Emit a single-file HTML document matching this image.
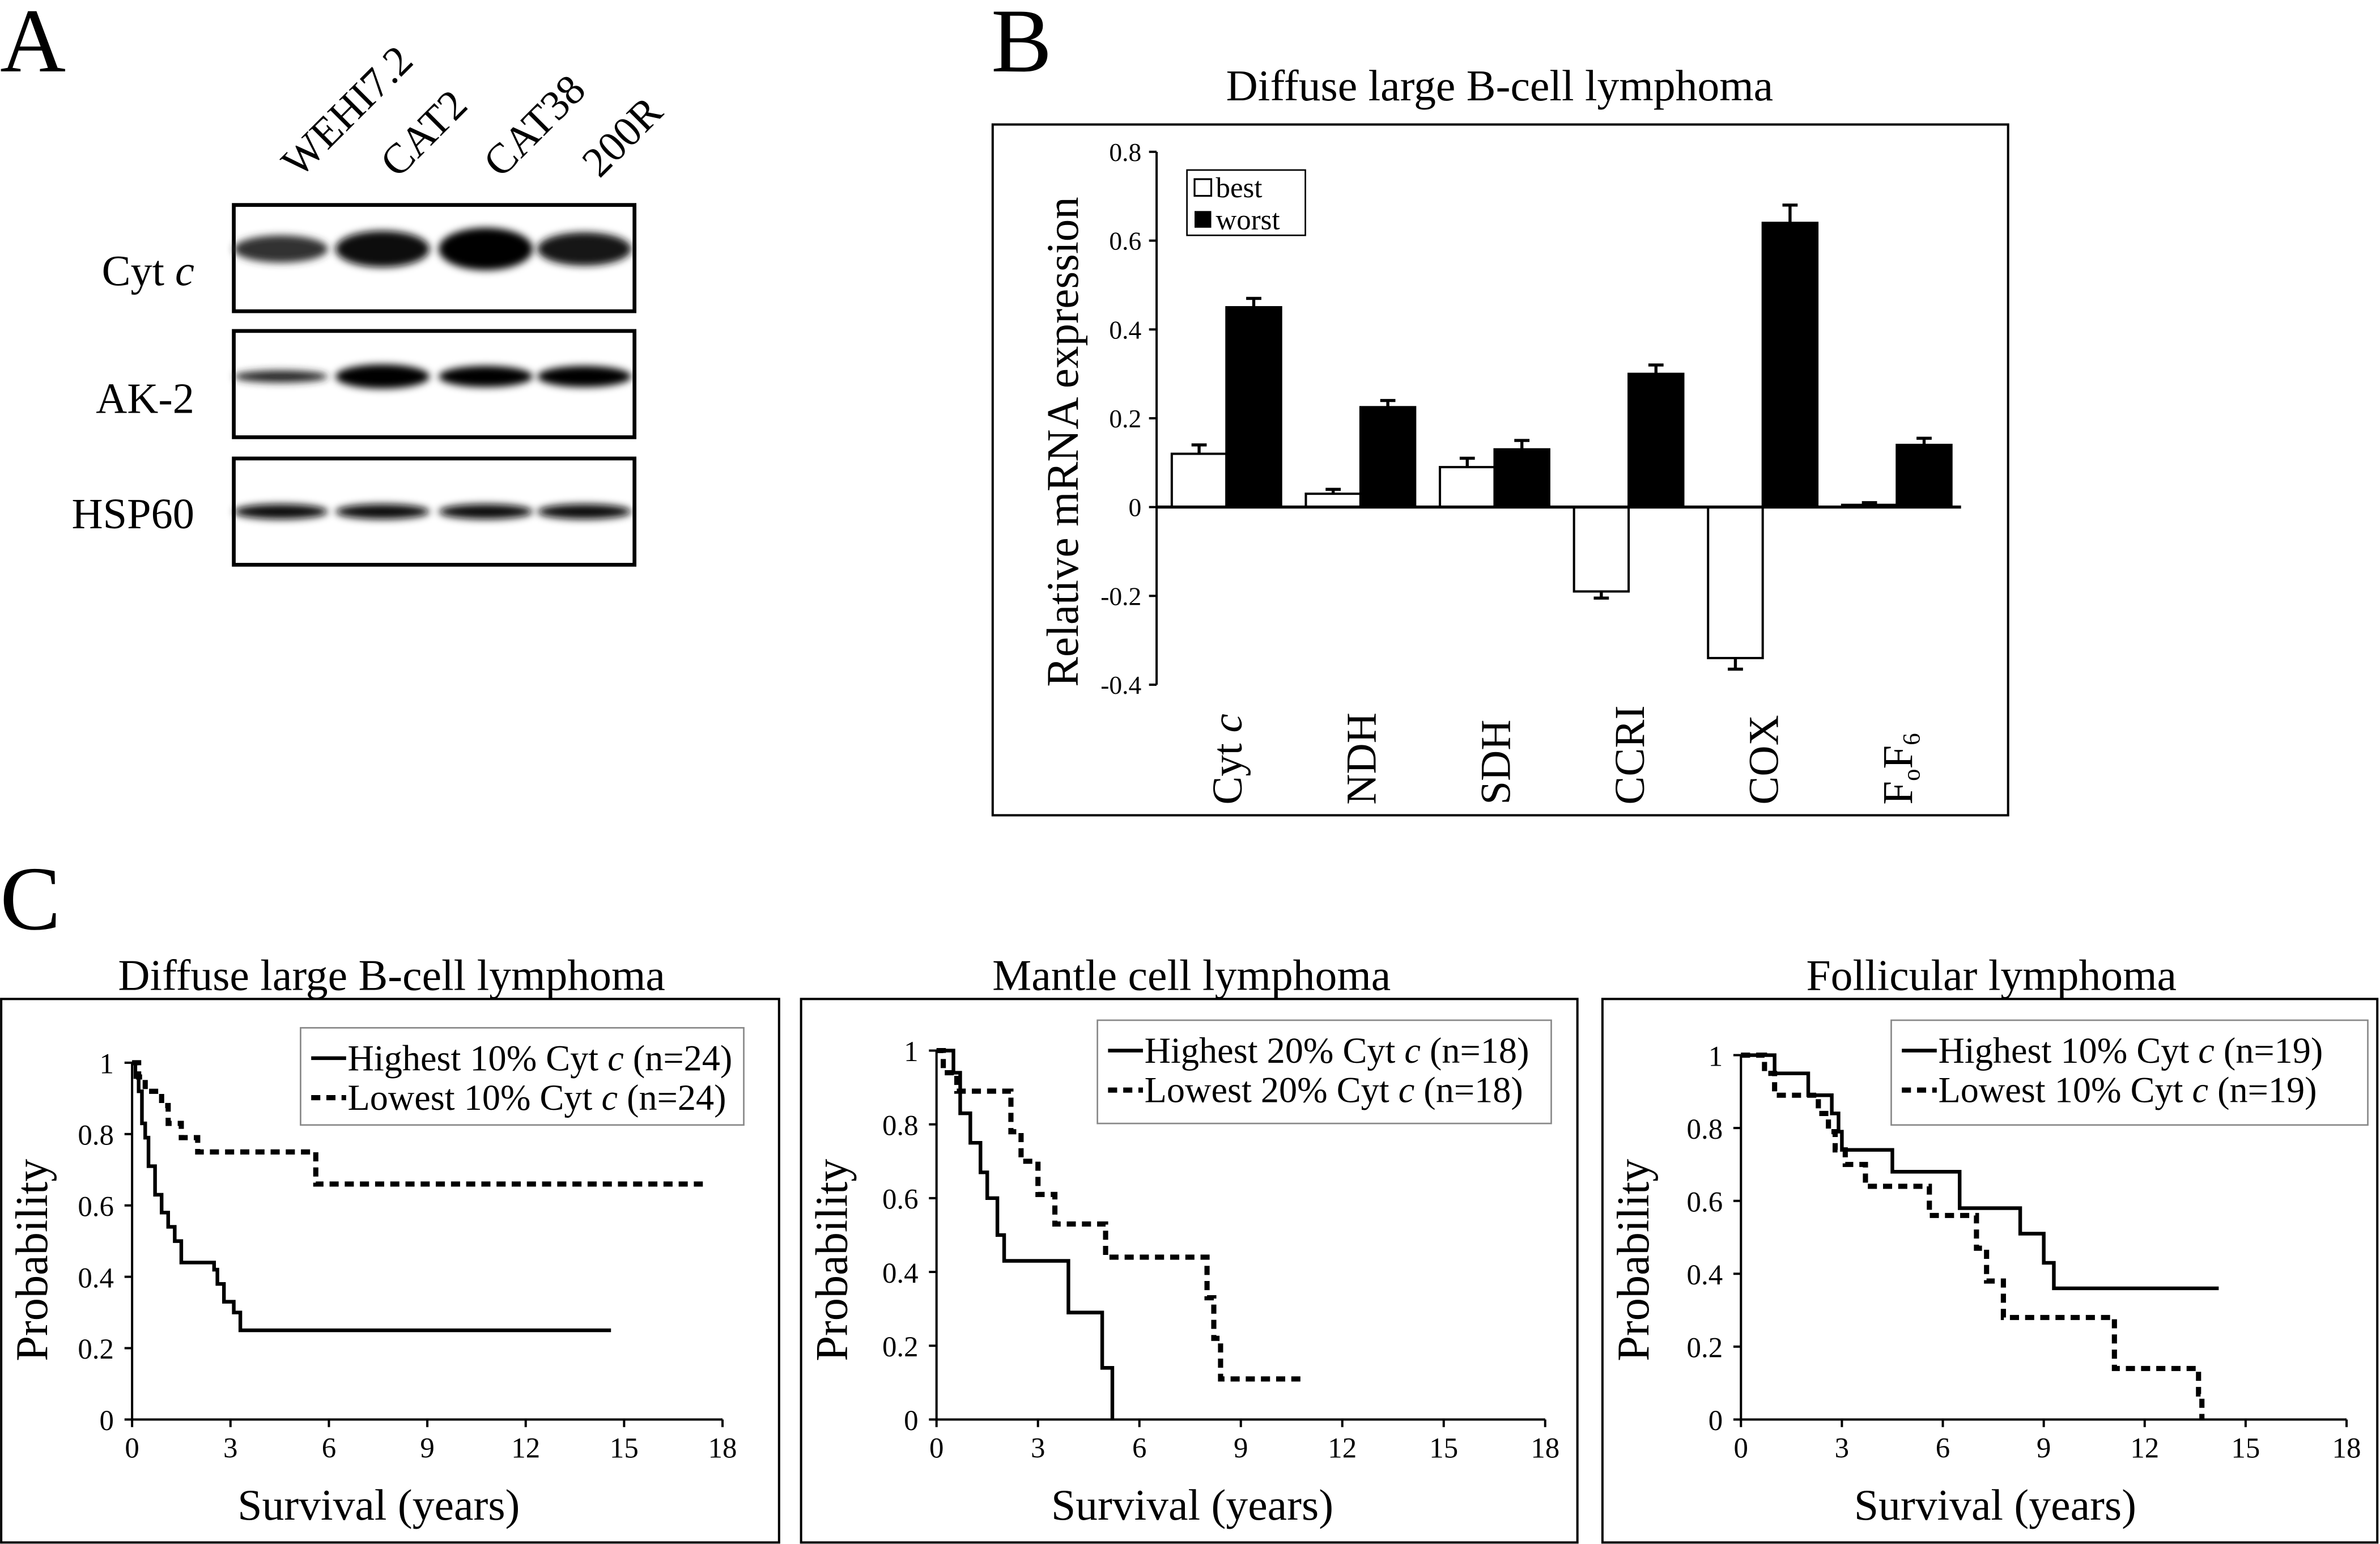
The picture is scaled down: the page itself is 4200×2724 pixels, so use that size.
<!DOCTYPE html>
<html><head><meta charset="utf-8"><style>
html,body{margin:0;padding:0;background:#fff;}
svg{display:block;font-family:"Liberation Serif",serif;}
</style></head><body>
<svg id="fig" width="4200" height="2724" viewBox="0 0 1568 1017" xmlns="http://www.w3.org/2000/svg">
<defs><filter id="blur" x="-20%" y="-100%" width="140%" height="300%"><feGaussianBlur stdDeviation="2.5"/></filter></defs>
<rect width="1568" height="1017" fill="#fff"/>
<g id="panelA">
<text x="0" y="47" font-size="60">A</text>
</g>
<g id="panelB">
<text x="653" y="47" font-size="60">B</text>
<text x="988" y="66" font-size="29" text-anchor="middle">Diffuse large B-cell lymphoma</text>
<rect x="654" y="82" width="669" height="455" fill="none" stroke="#000" stroke-width="1.5"/>
</g>
<g id="panelC">
<text x="0" y="612" font-size="60">C</text>
</g>
</svg>
<script>
const NS='http://www.w3.org/2000/svg';
function mk(parent,tag,attrs,text){const e=document.createElementNS(NS,tag);for(const k in attrs)e.setAttribute(k,attrs[k]);if(text!==undefined)e.textContent=text;parent.appendChild(e);return e;}

// ===== Panel A data =====
const blotLanes=['WEHI7.2','CAT2','CAT38','200R'];
const blotProteins=['Cyt c','AK-2','HSP60'];
const bandIntensityCyt=[0.8,0.97,1.0,0.93];
const bandIntensityAK=[0.85,1.0,1.0,1.0];
const bandIntensityHSP=[0.97,0.97,0.97,0.97];
const bandHeightCyt=[9,12,14,11];
const bandHeightAK=[4,8,7,7];
const bandHeightHSP=[5,5,5,5];

const A=document.getElementById('panelA');
const laneX=[187,252,320,385];
const blotTop=[135,218,302];
const intens=[bandIntensityCyt,bandIntensityAK,bandIntensityHSP];
const bh=[bandHeightCyt,bandHeightAK,bandHeightHSP];
const bandY=[164,248,337];
blotLanes.forEach((l,i)=>{
  const t=mk(A,'text',{x:laneX[i]+10,y:118,'font-size':28,transform:`rotate(-45 ${laneX[i]+10} 118)`},l);
  
  
});
blotProteins.forEach((p,r)=>{
  const lbl=mk(A,'text',{x:128,y:[188,272,348][r],'font-size':28.5,'text-anchor':'end'});
  if(p==='Cyt c'){lbl.innerHTML='Cyt <tspan font-style="italic">c</tspan>';}else lbl.textContent=p;
  
  
  const box=mk(A,'rect',{x:154,y:blotTop[r],width:264,height:70,fill:'#fff',stroke:'#000','stroke-width':2.5});
  
  
  blotLanes.forEach((l,i)=>{
    const v=intens[r][i];const g=Math.round(255*(1-v));
    const e=mk(A,'ellipse',{cx:laneX[i]+(i===0?-2:0),cy:bandY[r],rx:31,ry:bh[r][i],fill:`rgb(${g},${g},${g})`,filter:'url(#blur)'});
    
    
  });
});

// ===== Panel B data =====
const geneCats=['Cyt c','NDH','SDH','CCRI','COX','FoF6'];
const bestVals=[0.12,0.03,0.09,-0.19,-0.34,0.005];
const worstVals=[0.45,0.225,0.13,0.30,0.64,0.14];
const bestErr=[0.02,0.01,0.02,0.015,0.025,0.005];
const worstErr=[0.02,0.015,0.02,0.02,0.04,0.015];
const yTicksB=[0.8,0.6,0.4,0.2,0,-0.2,-0.4];
const yTickLabelsB=['0.8','0.6','0.4','0.2','0','-0.2','-0.4'];

const B=document.getElementById('panelB');
const bx0=762,bx1=1292;
const by=v=>334-v*(234/0.8);
const groupW=(bx1-bx0)/geneCats.length;
const yAx=mk(B,'line',{x1:bx0,y1:by(0.8),x2:bx0,y2:by(-0.4),stroke:'#000','stroke-width':1.5});

yTicksB.forEach((v,i)=>{
  const tk=mk(B,'line',{x1:bx0-5,y1:by(v),x2:bx0,y2:by(v),stroke:'#000','stroke-width':1.5});
  
  const t=mk(B,'text',{x:752,y:by(v)+6,'font-size':17,'text-anchor':'end'},yTickLabelsB[i]);
  
});
const yt=mk(B,'text',{x:710,y:291,'font-size':29.5,'text-anchor':'middle',transform:'rotate(-90 710 291)'},'Relative mRNA expression');

const bw=36;
geneCats.forEach((c,i)=>{
  const gx=bx0+i*groupW+10;
  [[bestVals,bestErr,'#fff','best'],[worstVals,worstErr,'#000','worst']].forEach(([vals,errs,fill,nm],s)=>{
    const v=vals[i],x=gx+s*bw;
    const y0=by(0),y1=by(v);
    const r=mk(B,'rect',{x:x,y:Math.min(y0,y1),width:bw,height:Math.max(Math.abs(y1-y0),1),fill:fill,stroke:'#000','stroke-width':1.5});
    
    
    const ye=by(v+(v>=0?errs[i]:-errs[i]));
    const el=mk(B,'path',{d:`M${x+bw/2} ${y1}V${ye}M${x+bw/2-5} ${ye}H${x+bw/2+5}`,stroke:'#000','stroke-width':2,fill:'none'});
    
  });
  const lx=gx+bw+10, ly=530;
  const t=mk(B,'text',{x:lx,y:ly,'font-size':28,transform:`rotate(-90 ${lx} ${ly})`});
  if(c==='Cyt c')t.innerHTML='Cyt <tspan font-style="italic">c</tspan>';
  else if(c==='FoF6')t.innerHTML='F<tspan font-size="16" dy="5">o</tspan><tspan dy="-5">F</tspan><tspan font-size="16" dy="5">6</tspan>';
  else t.textContent=c;
  
});
const xAx=mk(B,'line',{x1:bx0,y1:by(0),x2:bx1,y2:by(0),stroke:'#000','stroke-width':2});

const lg=mk(B,'g',{});

mk(lg,'rect',{x:782,y:112,width:78,height:43,fill:'#fff',stroke:'#000','stroke-width':1});
const l1=mk(lg,'rect',{x:787,y:118,width:11,height:11,fill:'#fff',stroke:'#000','stroke-width':1.2});

mk(lg,'text',{x:801,y:130,'font-size':19},'best');
const l2=mk(lg,'rect',{x:787,y:139,width:11,height:11,fill:'#000'});

mk(lg,'text',{x:801,y:151,'font-size':19},'worst');

// ===== Panel C data =====
const km1HighT=[0,0.1,0.2,0.3,0.4,0.5,0.7,0.9,1.1,1.3,1.5,2.5,2.6,2.8,3.1,3.3];
const km1HighS=[1,0.96,0.92,0.83,0.79,0.71,0.63,0.58,0.54,0.5,0.44,0.42,0.38,0.33,0.30,0.25];
const km1HighEnd=14.6;
const km1LowT=[0,0.2,0.4,0.9,1.1,1.5,2.0,5.6];
const km1LowS=[1,0.96,0.92,0.88,0.83,0.79,0.75,0.66];
const km1LowEnd=17.4;
const km2HighT=[0,0.5,0.7,1.0,1.3,1.5,1.8,2.0,3.9,4.9,5.2];
const km2HighS=[1,0.94,0.83,0.75,0.67,0.6,0.5,0.43,0.29,0.14,0];
const km2HighEnd=5.2;
const km2LowT=[0,0.2,0.6,2.2,2.5,3.0,3.5,5.0,8.0,8.2,8.4];
const km2LowS=[1,0.94,0.89,0.78,0.7,0.61,0.53,0.44,0.33,0.22,0.11];
const km2LowEnd=10.8;
const km3HighT=[0,1.0,2.0,2.7,2.9,3.0,4.5,6.5,8.3,9.0,9.3];
const km3HighS=[1,0.95,0.89,0.84,0.79,0.74,0.68,0.58,0.51,0.43,0.36];
const km3HighEnd=14.2;
const km3LowT=[0,0.7,1.0,2.3,2.6,2.8,3.1,3.7,5.6,7.0,7.3,7.8,11.1,13.6,13.7];
const km3LowS=[1,0.95,0.89,0.84,0.79,0.74,0.7,0.64,0.56,0.47,0.38,0.28,0.14,0.07,0];
const km3LowEnd=13.7;
const xTicksC=[0,3,6,9,12,15,18];
const yTicksC=[0,0.2,0.4,0.6,0.8,1];
const yTickLabelsC=['0','0.2','0.4','0.6','0.8','1'];

const C=document.getElementById('panelC');
const panels=[
 {title:'Diffuse large B-cell lymphoma',tx:258,box:[0,658,514,359],x0:87,x1:476,yTop:700,leg:[198,677,292,64],pct:'10%',n:24,hi:[km1HighT,km1HighS,km1HighEnd],lo:[km1LowT,km1LowS,km1LowEnd]},
 {title:'Mantle cell lymphoma',tx:785,box:[527,658,513,359],x0:617,x1:1018,yTop:692,leg:[723,672,299,68],pct:'20%',n:18,hi:[km2HighT,km2HighS,km2HighEnd],lo:[km2LowT,km2LowS,km2LowEnd]},
 {title:'Follicular lymphoma',tx:1312,box:[1055,658,512,359],x0:1147,x1:1546,yTop:695,leg:[1246,672,314,69],pct:'10%',n:19,hi:[km3HighT,km3HighS,km3HighEnd],lo:[km3LowT,km3LowS,km3LowEnd]}
];
panels.forEach((p,k)=>{
  const g=mk(C,'g',{});
  
  const tt=mk(g,'text',{x:p.tx,y:652,'font-size':29,'text-anchor':'middle'},p.title);
  
  const fr=mk(g,'rect',{x:p.box[0]+0.75,y:p.box[1],width:p.box[2]-1.5,height:p.box[3]-1,fill:'none',stroke:'#000','stroke-width':1.5});
  
  const y0=935;
  const sx=t=>p.x0+t*(p.x1-p.x0)/18;
  const sy=s=>y0-s*(y0-p.yTop);
  const ax=mk(g,'path',{d:`M${p.x0} ${sy(1)}V${y0}H${p.x1}`,stroke:'#000','stroke-width':1.5,fill:'none'});
  
  xTicksC.forEach(t=>{
    const tk=mk(g,'line',{x1:sx(t),y1:y0,x2:sx(t),y2:y0+5,stroke:'#000','stroke-width':1.5});
    
    const tl=mk(g,'text',{x:sx(t),y:y0+25,'font-size':19,'text-anchor':'middle'},String(t));
    
  });
  yTicksC.forEach((v,i)=>{
    const tk=mk(g,'line',{x1:p.x0-5,y1:sy(v),x2:p.x0,y2:sy(v),stroke:'#000','stroke-width':1.5});
    
    const tl=mk(g,'text',{x:p.x0-12,y:sy(v)+7,'font-size':19,'text-anchor':'end'},yTickLabelsC[i]);
    
  });
  const xt=mk(g,'text',{x:(p.x0+p.x1)/2-32,y:1001,'font-size':29,'text-anchor':'middle'},'Survival (years)');
  
  const yx=p.box[0]+31;
  const ytt=mk(g,'text',{x:yx,y:830,'font-size':30,'text-anchor':'middle',transform:`rotate(-90 ${yx} 830)`},'Probability');
  
  [[p.hi,'none','highest'],[p.lo,'6 4','lowest']].forEach(([d,dash,nm])=>{
    const [T,S,end]=d;
    let path=`M${sx(T[0])} ${sy(S[0])}`;
    for(let i=1;i<T.length;i++){path+=`H${sx(T[i])}V${sy(S[i])}`;}
    path+=`H${sx(end)}`;
    const ln=mk(g,'path',{d:path,stroke:'#000','stroke-width':dash==='none'?2.4:3.4,fill:'none','stroke-dasharray':dash});
    
  });
  const lgc=mk(g,'g',{});
  
  const [lx,ly,lw,lh]=p.leg;
  mk(lgc,'rect',{x:lx,y:ly,width:lw,height:lh,fill:'#fff',stroke:'#888','stroke-width':1});
  mk(lgc,'line',{x1:lx+7,y1:ly+20,x2:lx+30,y2:ly+20,stroke:'#000','stroke-width':2.4});
  mk(lgc,'line',{x1:lx+7,y1:ly+46,x2:lx+30,y2:ly+46,stroke:'#000','stroke-width':3.4,'stroke-dasharray':'6 4'});
  const e1=mk(lgc,'text',{x:lx+31,y:ly+28,'font-size':24});
  e1.innerHTML=`Highest ${p.pct} Cyt <tspan font-style="italic">c</tspan> (n=${p.n})`;
  
  const e2=mk(lgc,'text',{x:lx+31,y:ly+54,'font-size':24});
  e2.innerHTML=`Lowest ${p.pct} Cyt <tspan font-style="italic">c</tspan> (n=${p.n})`;
  
});
</script>
</body></html>
